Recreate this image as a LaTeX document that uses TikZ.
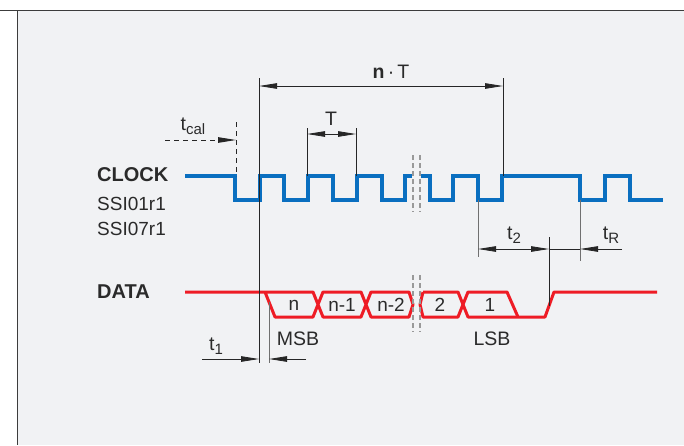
\documentclass[tikz,border=0pt]{standalone}
\usepackage{fontspec}
\setmainfont{Liberation Sans}
\usetikzlibrary{arrows.meta}
\definecolor{bg}{HTML}{F1F2F4}
\definecolor{clk}{HTML}{0A6FC0}
\definecolor{dat}{HTML}{EE1C25}
\definecolor{txt}{HTML}{2A2A2A}
\definecolor{frm}{HTML}{3C3C3C}
\definecolor{gl}{HTML}{707070}
\newcommand{\mysub}[1]{\raisebox{-0.22em}{\fontsize{15}{15}\selectfont #1}}
\tikzset{
  >={Triangle[length=18pt,width=5.5pt]},
  lbl/.style={inner sep=0pt, text=txt, font=\fontsize{19.5}{22}\selectfont},
  cell/.style={inner sep=0pt, text=txt, font=\fontsize{19}{21}\selectfont},
  sig/.style={inner sep=0pt, anchor=west, text=txt, font=\fontsize{20}{22}\selectfont\bfseries},
  sub/.style={inner sep=0pt, anchor=west, text=txt, font=\fontsize{19}{21}\selectfont},
  dim/.style={line width=0.8pt, draw=black!85},
  ext/.style={line width=0.8pt, draw=black!85},
  extg/.style={line width=1pt, draw=gl},
  brk/.style={line width=1.4pt, draw=gray!80, dash pattern=on 5pt off 3pt},
  clkline/.style={line width=3.2pt, draw=clk, line join=miter},
  datline/.style={line width=3pt, draw=dat, line join=round},
  dsh/.style={line width=1pt, draw=black!85, dash pattern=on 5pt off 4pt}
}
\begin{document}
\begin{tikzpicture}[x=1pt,y=-1pt]
\useasboundingbox (0,0) rectangle (684,445);
\fill[bg] (17,10) rectangle (684,445);
\draw[frm, line width=1pt] (0,10) -- (684,10);
\draw[frm, line width=1pt] (17,10) -- (17,445);

% labels
\node[sig] (clock) at (97,175) {CLOCK};
\node[sub] (ssi1) at (97,204) {SSI01r1};
\node[sub] (ssi7) at (97,228.5) {SSI07r1};
\node[sig] (data) at (97,292) {DATA};

% clock waveform
\draw[clkline] (185,176) -- (235,176) -- (235,200) -- (260,200) -- (260,176)
  -- (284,176) -- (284,200) -- (308,200) -- (308,176) -- (333,176) -- (333,200)
  -- (357,200) -- (357,176) -- (382,176) -- (382,200) -- (405,200) -- (405,176) -- (412,176);
\draw[clkline] (421,176) -- (430,176) -- (430,200) -- (453,200) -- (453,176)
  -- (478,176) -- (478,200) -- (502,200) -- (502,176) -- (580,176) -- (580,200)
  -- (605,200) -- (605,176) -- (630,176) -- (630,200) -- (663,200);

% data waveform
\draw[datline] (185,292) -- (313,292) -- (323,317) -- (361,317) -- (371,292) -- (409,292) -- (413,304.5) -- (409,317) -- (371,317) -- (361,292) -- (323,292) -- (313,317) -- (275,317) -- (265,292);
\draw[datline] (423,292) -- (420,304.5) -- (423,317) -- (458,317) -- (468,292) -- (507,292) -- (518,317);
\draw[datline] (423,292) -- (458,292) -- (468,317) -- (545,317) -- (554,292) -- (657,292);

% breaks
\draw[brk] (413,155) -- (413,212);
\draw[brk] (420,155) -- (420,212);
\draw[brk] (413,275) -- (413,332);
\draw[brk] (420,275) -- (420,332);

% cell labels
\node[cell] (cn) at (294,305) {n};
\node[cell] (cn1) at (342,305) {n-1};
\node[cell] (cn2) at (391,305) {n-2};
\node[cell] (c2) at (440,305) {2};
\node[cell] (c1) at (490,305) {1};

% coordinates
\coordinate (nTa) at (259,78);
\coordinate (nTb) at (259,363);
\coordinate (nTc) at (503,78);
\coordinate (nTd) at (503,176);
\coordinate (nTl) at (259,86);
\coordinate (nTr) at (503,86);
\coordinate (Ta) at (307,128);
\coordinate (Tb) at (307,176);
\coordinate (Tc) at (356,128);
\coordinate (Td) at (356,176);
\coordinate (Tl) at (307,134);
\coordinate (Tr) at (356,134);
\coordinate (tca) at (236,122);
\coordinate (tcb) at (236,176);
\coordinate (tcl) at (165,140);
\coordinate (tcr) at (236,140);
\coordinate (m1) at (269,302);
\coordinate (m2) at (269,363);
\coordinate (t1a) at (202,359);
\coordinate (t1b) at (259,359);
\coordinate (t1c) at (306,359);
\coordinate (t1d) at (269,359);
\coordinate (v2a) at (478,200);
\coordinate (v2b) at (478,257);
\coordinate (v3a) at (549,237);
\coordinate (v3b) at (549,306);
\coordinate (v4a) at (580,200);
\coordinate (v4b) at (580,261);
\coordinate (t2l) at (478,249);
\coordinate (t2r) at (549,249);
\coordinate (tRr) at (622,249);
\coordinate (tRt) at (580,249);

% extension lines
\draw[ext] (nTa) -- (nTb);
\draw[ext] (nTc) -- (nTd);
\draw[ext] (Ta) -- (Tb);
\draw[ext] (Tc) -- (Td);
\draw[extg] (m1) -- (m2);
\draw[extg] (v2a) -- (v2b);
\draw[ext] (v3a) -- (v3b);
\draw[extg] (v4a) -- (v4b);
\draw[dsh] (tca) -- (tcb);

% dimension arrows
\draw[dim,<->] (nTl) -- (nTr);
\draw[dim,<->] (Tl) -- (Tr);
\draw[dsh,->] (tcl) -- (tcr);
\draw[dim,->] (t1a) -- (t1b);
\draw[dim,->] (t1c) -- (t1d);
\draw[dim,<->] (t2l) -- (t2r);
\draw[dim] (t2r) -- (tRt);
\draw[dim,->] (tRr) -- (tRt);

% dimension labels
\node[lbl] (lnT) at (391,72) {\textbf{n}\,\textperiodcentered\,T};
\node[lbl] (lT) at (331,119) {T};
\node[lbl] (ltcal) at (193,126) {t\mysub{cal}};
\node[lbl] (lt1) at (216,346) {t\mysub{1}};
\node[lbl] (lmsb) at (298,339) {MSB};
\node[lbl] (llsb) at (492,339) {LSB};
\node[lbl] (lt2) at (514,235) {t\mysub{2}};
\node[lbl] (ltR) at (611,235) {t\mysub{R}};
\end{tikzpicture}
\end{document}
